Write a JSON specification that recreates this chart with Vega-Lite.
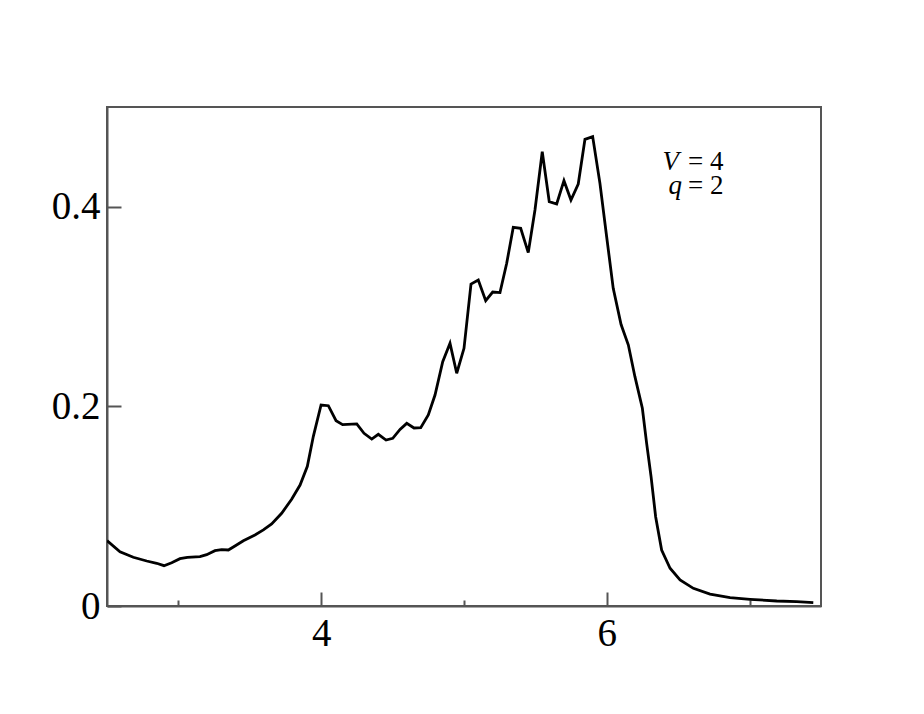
{
  "$schema": "https://vega.github.io/schema/vega-lite/v6.json",
  "width": 714,
  "height": 499,
  "autosize": "none",
  "padding": {"left": 107, "top": 107, "right": 103, "bottom": 108},
  "background": "white",
  "config": {
    "view": {"stroke": "#555", "strokeWidth": 2},
    "font": "Liberation Serif",
    "axis": {"grid": false, "domainColor": "#555", "domainWidth": 2, "tickColor": "#555", "tickWidth": 2, "labelFont": "Liberation Serif", "labelFontSize": 39, "labelColor": "black", "title": null}
  },
  "layer": [
    {
      "data": {"values": [
        {"x": 2.5, "y": 0.0655}, {"x": 2.591, "y": 0.0544}, {"x": 2.684, "y": 0.0488}, {"x": 2.778, "y": 0.0451},
        {"x": 2.848, "y": 0.0428}, {"x": 2.899, "y": 0.0404}, {"x": 2.953, "y": 0.0434}, {"x": 3.011, "y": 0.0474},
        {"x": 3.063, "y": 0.0488}, {"x": 3.151, "y": 0.0494}, {"x": 3.198, "y": 0.0514}, {"x": 3.256, "y": 0.0554},
        {"x": 3.303, "y": 0.0564}, {"x": 3.350, "y": 0.0561}, {"x": 3.396, "y": 0.0601}, {"x": 3.455, "y": 0.0654},
        {"x": 3.536, "y": 0.0711}, {"x": 3.595, "y": 0.0762}, {"x": 3.653, "y": 0.0822}, {"x": 3.723, "y": 0.0929},
        {"x": 3.793, "y": 0.1069}, {"x": 3.852, "y": 0.1212}, {"x": 3.903, "y": 0.1400}, {"x": 3.945, "y": 0.170},
        {"x": 3.999, "y": 0.2014}, {"x": 4.050, "y": 0.2007}, {"x": 4.104, "y": 0.1857}, {"x": 4.150, "y": 0.1817},
        {"x": 4.249, "y": 0.1824}, {"x": 4.300, "y": 0.1730}, {"x": 4.354, "y": 0.1673}, {"x": 4.400, "y": 0.1720},
        {"x": 4.454, "y": 0.1663}, {"x": 4.501, "y": 0.1680}, {"x": 4.552, "y": 0.1770}, {"x": 4.599, "y": 0.1830},
        {"x": 4.650, "y": 0.1784}, {"x": 4.697, "y": 0.1787}, {"x": 4.750, "y": 0.1914}, {"x": 4.797, "y": 0.2114},
        {"x": 4.851, "y": 0.2448}, {"x": 4.902, "y": 0.2632}, {"x": 4.949, "y": 0.2332}, {"x": 5.000, "y": 0.2582},
        {"x": 5.049, "y": 0.3226}, {"x": 5.100, "y": 0.3267}, {"x": 5.152, "y": 0.3059}, {"x": 5.201, "y": 0.3146},
        {"x": 5.252, "y": 0.3140}, {"x": 5.299, "y": 0.3434}, {"x": 5.345, "y": 0.3794}, {"x": 5.397, "y": 0.3784},
        {"x": 5.450, "y": 0.3541}, {"x": 5.497, "y": 0.3968}, {"x": 5.548, "y": 0.4552}, {"x": 5.597, "y": 0.4051},
        {"x": 5.649, "y": 0.4028}, {"x": 5.700, "y": 0.4262}, {"x": 5.749, "y": 0.4068}, {"x": 5.800, "y": 0.4228},
        {"x": 5.847, "y": 0.4676}, {"x": 5.901, "y": 0.4703}, {"x": 5.952, "y": 0.4235}, {"x": 5.999, "y": 0.3700},
        {"x": 6.045, "y": 0.3183}, {"x": 6.100, "y": 0.2820}, {"x": 6.151, "y": 0.2615}, {"x": 6.197, "y": 0.2298},
        {"x": 6.249, "y": 0.1981}, {"x": 6.279, "y": 0.1630}, {"x": 6.310, "y": 0.1296}, {"x": 6.342, "y": 0.0895},
        {"x": 6.384, "y": 0.0561}, {"x": 6.443, "y": 0.0378}, {"x": 6.513, "y": 0.0261}, {"x": 6.606, "y": 0.0177},
        {"x": 6.723, "y": 0.0120}, {"x": 6.863, "y": 0.0083}, {"x": 7.003, "y": 0.0067}, {"x": 7.190, "y": 0.0050},
        {"x": 7.330, "y": 0.0043}, {"x": 7.446, "y": 0.0033}
      ]},
      "mark": {"type": "line", "color": "black", "strokeWidth": 2.8, "clip": true},
      "encoding": {
        "x": {"field": "x", "type": "quantitative", "scale": {"domain": [2.5, 7.5], "nice": false, "zero": false},
          "axis": {"values": [3, 4, 5, 6, 7], "labelExpr": "datum.value % 2 == 0 ? format(datum.value, 'd') : ''",
            "tickSize": {"condition": {"test": "datum.value % 2 == 0", "value": -14}, "value": -6},
            "labelPadding": 22, "labelFlush": false}},
        "y": {"field": "y", "type": "quantitative", "scale": {"domain": [0, 0.5], "nice": false},
          "axis": {"values": [0, 0.2, 0.4], "labelExpr": "datum.value == 0 ? '0' : format(datum.value, '.1f')",
            "tickSize": -14, "labelPadding": 21, "labelFlush": false}}
      }
    },
    {
      "data": {"values": [{"x": 6.505, "y": 0.4369, "t": "V"}, {"x": 6.527, "y": 0.4128, "t": "q"}]},
      "mark": {"type": "text", "align": "right", "baseline": "alphabetic", "fontSize": 27, "fontStyle": "italic", "font": "Liberation Serif", "color": "black"},
      "encoding": {
        "x": {"field": "x", "type": "quantitative"},
        "y": {"field": "y", "type": "quantitative"},
        "text": {"field": "t"}
      }
    },
    {
      "data": {"values": [{"x": 6.817, "y": 0.4369, "t": "= 4"}, {"x": 6.817, "y": 0.4128, "t": "= 2"}]},
      "mark": {"type": "text", "align": "right", "baseline": "alphabetic", "fontSize": 27, "font": "Liberation Serif", "color": "black"},
      "encoding": {
        "x": {"field": "x", "type": "quantitative"},
        "y": {"field": "y", "type": "quantitative"},
        "text": {"field": "t"}
      }
    }
  ]
}
